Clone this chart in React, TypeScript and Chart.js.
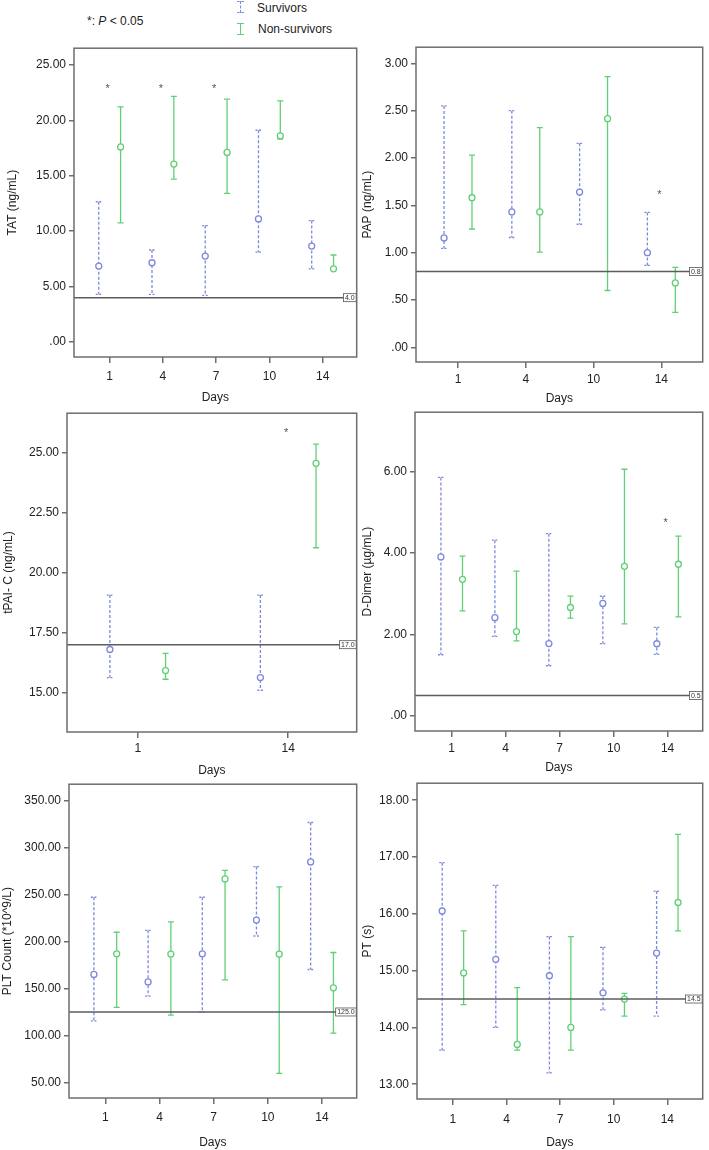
import React, { useEffect, useRef } from 'react';
import { Chart, registerables } from 'chart.js';

Chart.register(...registerables);

const FONT = "'Liberation Sans', Arial, Helvetica, sans-serif";
const BLUE = '#7d89dc';
const GREEN = '#62cf77';
const FRAME = '#6e6e6e';
const REFLINE = '#5c5c5c';
const TEXT = '#222222';

// ---------------- Data ----------------
const tatDays = ['1', '4', '7', '10', '14'];
const tatSurvMean = [6.85, 7.15, 7.75, 11.1, 8.65];
const tatSurvLow = [4.3, 4.3, 4.2, 8.1, 6.6];
const tatSurvHigh = [12.65, 8.3, 10.5, 19.1, 10.95];
const tatNonMean = [17.6, 16.05, 17.1, 18.6, 6.6];
const tatNonLow = [10.75, 14.7, 13.4, 18.3, 6.55];
const tatNonHigh = [21.2, 22.15, 21.9, 21.75, 7.85];
const tatTicks = [0, 5, 10, 15, 20, 25];
const tatCutoff = 4.0;
const tatStarDays = ['1', '4', '7'];
const tatStarLevel = 23.0;

const papDays = ['1', '4', '10', '14'];
const papSurvMean = [1.155, 1.43, 1.64, 1.0];
const papSurvLow = [1.045, 1.16, 1.3, 0.865];
const papSurvHigh = [2.55, 2.5, 2.155, 1.425];
const papNonMean = [1.58, 1.43, 2.415, 0.68];
const papNonLow = [1.25, 1.005, 0.6, 0.37];
const papNonHigh = [2.03, 2.32, 2.86, 0.845];
const papTicks = [0, 0.5, 1, 1.5, 2, 2.5, 3];
const papCutoff = 0.8;
const papStarDays = ['14'];
const papStarLevel = 1.63;

const tpaiDays = ['1', '14'];
const tpaiSurvMean = [16.8, 15.63];
const tpaiSurvLow = [15.63, 15.1];
const tpaiSurvHigh = [19.07, 19.07];
const tpaiNonMean = [15.92, 24.56];
const tpaiNonLow = [15.56, 21.04];
const tpaiNonHigh = [16.64, 25.36];
const tpaiTicks = [15, 17.5, 20, 22.5, 25];
const tpaiCutoff = 17.0;
const tpaiStarDays = ['14'];
const tpaiStarLevel = 25.9;

const ddDays = ['1', '4', '7', '10', '14'];
const ddSurvMean = [3.9, 2.41, 1.775, 2.76, 1.77];
const ddSurvLow = [1.5, 1.95, 1.23, 1.775, 1.51];
const ddSurvHigh = [5.85, 4.31, 4.47, 2.935, 2.17];
const ddNonMean = [3.35, 2.07, 2.66, 3.67, 3.72];
const ddNonLow = [2.575, 1.84, 2.4, 2.26, 2.43];
const ddNonHigh = [3.92, 3.55, 2.94, 6.05, 4.41];
const ddTicks = [0, 2, 4, 6];
const ddCutoff = 0.5;
const ddStarDays = ['14'];
const ddStarLevel = 4.77;

const pltDays = ['1', '4', '7', '10', '14'];
const pltSurvMean = [165, 157, 187, 223, 285];
const pltSurvLow = [115.6, 142, 125.2, 206, 170.3];
const pltSurvHigh = [247.3, 212, 247.3, 280, 327];
const pltNonMean = [187, 186.7, 266.8, 186.7, 150.7];
const pltNonLow = [130, 121.7, 159.3, 59.6, 102.5];
const pltNonHigh = [210, 221, 276, 258.3, 188.4];
const pltTicks = [50, 100, 150, 200, 250, 300, 350];
const pltCutoff = 125.0;

const ptDays = ['1', '4', '7', '10', '14'];
const ptSurvMean = [16.05, 15.2, 14.91, 14.61, 15.31];
const ptSurvLow = [13.6, 14.0, 13.2, 14.31, 14.2];
const ptSurvHigh = [16.9, 16.5, 15.6, 15.41, 16.4];
const ptNonMean = [14.96, 13.7, 14.0, 14.5, 16.2];
const ptNonLow = [14.4, 13.6, 13.6, 14.2, 15.7];
const ptNonHigh = [15.7, 14.7, 15.6, 14.6, 17.4];
const ptTicks = [13, 14, 15, 16, 17, 18];
const ptCutoff = 14.5;

// ---------------- Panel setup ----------------
type PanelCfg = {
  id: string;
  yTitle: string;
  days: string[];
  sMean: number[]; sLow: number[]; sHigh: number[];
  nMean: number[]; nLow: number[]; nHigh: number[];
  yTicks: number[];
  cutoff: number;
  starDays: string[];
  starLevel: number;
  yMin: number; yMax: number;
  xMin: number; xMax: number;
  offset: number;
  // layout (page px)
  areaL: number; areaT: number; areaR: number; areaB: number;
  x0: number; labelY: number; titleY: number; titleX: number;
};

const panels: PanelCfg[] = [
  {
    id: 'tat', yTitle: 'TAT (ng/mL)', days: tatDays,
    sMean: tatSurvMean, sLow: tatSurvLow, sHigh: tatSurvHigh,
    nMean: tatNonMean, nLow: tatNonLow, nHigh: tatNonHigh,
    yTicks: tatTicks, cutoff: tatCutoff, starDays: tatStarDays, starLevel: tatStarLevel,
    yMin: -1.35, yMax: 26.5, xMin: -0.67, xMax: 4.64, offset: 0.205,
    areaL: 74, areaT: 48, areaR: 358, areaB: 357, x0: 0, labelY: 377, titleY: 398, titleX: 12.3,
  },
  {
    id: 'pap', yTitle: 'PAP (ng/mL)', days: papDays,
    sMean: papSurvMean, sLow: papSurvLow, sHigh: papSurvHigh,
    nMean: papNonMean, nLow: papNonLow, nHigh: papNonHigh,
    yTicks: papTicks, cutoff: papCutoff, starDays: papStarDays, starLevel: papStarLevel,
    yMin: -0.155, yMax: 3.17, xMin: -0.62, xMax: 3.61, offset: 0.206,
    areaL: 416, areaT: 47, areaR: 704, areaB: 362, x0: 356, labelY: 380, titleY: 399, titleX: 368,
  },
  {
    id: 'tpai', yTitle: 'tPAI- C (ng/mL)', days: tpaiDays,
    sMean: tpaiSurvMean, sLow: tpaiSurvLow, sHigh: tpaiSurvHigh,
    nMean: tpaiNonMean, nLow: tpaiNonLow, nHigh: tpaiNonHigh,
    yTicks: tpaiTicks, cutoff: tpaiCutoff, starDays: tpaiStarDays, starLevel: tpaiStarLevel,
    yMin: 13.36, yMax: 26.65, xMin: -0.47, xMax: 1.455, offset: 0.185,
    areaL: 67, areaT: 413, areaR: 358, areaB: 732, x0: 0, labelY: 749, titleY: 771, titleX: 8.3,
  },
  {
    id: 'dd', yTitle: 'D-Dimer (\u00b5g/mL)', days: ddDays,
    sMean: ddSurvMean, sLow: ddSurvLow, sHigh: ddSurvHigh,
    nMean: ddNonMean, nLow: ddNonLow, nHigh: ddNonHigh,
    yTicks: ddTicks, cutoff: ddCutoff, starDays: ddStarDays, starLevel: ddStarLevel,
    yMin: -0.37, yMax: 7.45, xMin: -0.68, xMax: 4.65, offset: 0.2,
    areaL: 415, areaT: 412, areaR: 704, areaB: 731, x0: 356, labelY: 749, titleY: 768, titleX: 368,
  },
  {
    id: 'plt', yTitle: 'PLT Count (*10^9/L)', days: pltDays,
    sMean: pltSurvMean, sLow: pltSurvLow, sHigh: pltSurvHigh,
    nMean: pltNonMean, nLow: pltNonLow, nHigh: pltNonHigh,
    yTicks: pltTicks, cutoff: pltCutoff, starDays: [], starLevel: 0,
    yMin: 33.3, yMax: 367.8, xMin: -0.67, xMax: 4.64, offset: 0.21,
    areaL: 69, areaT: 784, areaR: 358, areaB: 1098, x0: 0, labelY: 1118, titleY: 1143, titleX: 7.3,
  },
  {
    id: 'pt', yTitle: 'PT (s)', days: ptDays,
    sMean: ptSurvMean, sLow: ptSurvLow, sHigh: ptSurvHigh,
    nMean: ptNonMean, nLow: ptNonLow, nHigh: ptNonHigh,
    yTicks: ptTicks, cutoff: ptCutoff, starDays: [], starLevel: 0,
    yMin: 12.74, yMax: 18.3, xMin: -0.67, xMax: 4.66, offset: 0.2,
    areaL: 417, areaT: 783, areaR: 704, areaB: 1099, x0: 356, labelY: 1120, titleY: 1143, titleX: 368,
  },
];

const fmtTick = (v: number) => {
  const s = Number(v).toFixed(2);
  return s.startsWith('0.') ? s.slice(1) : s;
};

const TICK_LEN_X = 6;
const TICK_LEN_Y = 5;
const FONT_SIZE = 12;
const LINE_H = FONT_SIZE * 1.2;

function drawErrorBar(ctx: CanvasRenderingContext2D, px: number, yLo: number, yHi: number, color: string, dashed: boolean) {
  const cap = 3;
  ctx.save();
  ctx.strokeStyle = color;
  ctx.lineWidth = 1.3;
  ctx.setLineDash(dashed ? [3, 2] : []);
  ctx.beginPath();
  ctx.moveTo(px, yHi);
  ctx.lineTo(px, yLo);
  ctx.stroke();
  ctx.setLineDash(dashed ? [2, 1.5] : []);
  ctx.beginPath();
  ctx.moveTo(px - cap, yHi);
  ctx.lineTo(px + cap, yHi);
  ctx.moveTo(px - cap, yLo);
  ctx.lineTo(px + cap, yLo);
  ctx.stroke();
  ctx.restore();
}

function PanelChart({ p }: { p: PanelCfg }) {
  const ref = useRef<HTMLCanvasElement | null>(null);
  const y0 = p.areaT - 10;
  const x1 = p.areaR + 4;
  const canvasW = x1 - p.x0;
  const canvasH = p.titleY + 10 - y0;

  useEffect(() => {
    if (!ref.current) return;
    const yAxisW = p.areaL - p.x0;
    const xAxisH = p.titleY + 10 - p.areaB;

    const overlay = {
      id: 'overlay_' + p.id,
      beforeDatasetsDraw(chart: any) {
        const { ctx, scales } = chart;
        const xs = scales.x;
        const ys = scales.y;
        p.days.forEach((_d, i) => {
          drawErrorBar(ctx, xs.getPixelForValue(i - p.offset), ys.getPixelForValue(p.sLow[i]), ys.getPixelForValue(p.sHigh[i]), BLUE, true);
          drawErrorBar(ctx, xs.getPixelForValue(i + p.offset), ys.getPixelForValue(p.nLow[i]), ys.getPixelForValue(p.nHigh[i]), GREEN, false);
        });
      },
      afterDatasetsDraw(chart: any) {
        const { ctx, scales, chartArea } = chart;
        const xs = scales.x;
        const ys = scales.y;
        // reference line
        const ry = ys.getPixelForValue(p.cutoff);
        ctx.save();
        ctx.strokeStyle = REFLINE;
        ctx.lineWidth = 1.5;
        ctx.beginPath();
        ctx.moveTo(chartArea.left, ry);
        ctx.lineTo(chartArea.right, ry);
        ctx.stroke();
        // label box
        const label = p.cutoff.toFixed(1);
        ctx.font = `7px ${FONT}`;
        const tw = ctx.measureText(label).width;
        const bw = tw + 3;
        const bh = 8;
        const bx = chartArea.right - bw - 0.5;
        ctx.fillStyle = '#ffffff';
        ctx.fillRect(bx, ry - bh / 2, bw, bh);
        ctx.strokeStyle = '#555555';
        ctx.lineWidth = 0.8;
        ctx.strokeRect(bx, ry - bh / 2, bw, bh);
        ctx.fillStyle = '#333333';
        ctx.textAlign = 'center';
        ctx.textBaseline = 'middle';
        ctx.fillText(label, bx + bw / 2, ry + 0.5);
        // stars
        ctx.font = `11px ${FONT}`;
        ctx.fillStyle = '#555555';
        p.starDays.forEach((d) => {
          const idx = p.days.indexOf(d);
          ctx.fillText('*', xs.getPixelForValue(idx) - 2, ys.getPixelForValue(p.starLevel) + 2);
        });
        // frame
        ctx.strokeStyle = FRAME;
        ctx.lineWidth = 1.5;
        ctx.strokeRect(chartArea.left, chartArea.top, chartArea.right - chartArea.left, chartArea.bottom - chartArea.top);
        ctx.restore();
      },
    };

    const chart = new Chart(ref.current, {
      type: 'scatter',
      data: {
        datasets: [
          {
            label: 'Survivors',
            data: p.days.map((_d, i) => ({ x: i - p.offset, y: p.sMean[i] })),
            pointStyle: 'circle',
            pointRadius: 3,
            pointBorderWidth: 1.3,
            borderColor: BLUE,
            pointBorderColor: BLUE,
            pointBackgroundColor: '#ffffff',
            backgroundColor: '#ffffff',
          },
          {
            label: 'Non-survivors',
            data: p.days.map((_d, i) => ({ x: i + p.offset, y: p.nMean[i] })),
            pointStyle: 'circle',
            pointRadius: 3,
            pointBorderWidth: 1.3,
            borderColor: GREEN,
            pointBorderColor: GREEN,
            pointBackgroundColor: '#ffffff',
            backgroundColor: '#ffffff',
          },
        ],
      },
      options: {
        animation: false,
        responsive: false,
        maintainAspectRatio: false,
        layout: { padding: { left: 0, top: p.areaT - y0, right: x1 - p.areaR, bottom: 0 } },
        plugins: { legend: { display: false }, tooltip: { enabled: false } },
        scales: {
          x: {
            type: 'linear',
            min: p.xMin,
            max: p.xMax,
            afterBuildTicks: (axis: any) => {
              axis.ticks = p.days.map((_d, i) => ({ value: i }));
            },
            afterFit: (s: any) => {
              s.height = xAxisH;
            },
            ticks: {
              callback: (_v: any, i: number) => p.days[i],
              font: { family: FONT, size: FONT_SIZE },
              color: TEXT,
              padding: p.labelY - p.areaB - TICK_LEN_X - LINE_H / 2,
              maxRotation: 0,
              autoSkip: false,
            },
            grid: { drawOnChartArea: false, drawTicks: true, tickLength: TICK_LEN_X, color: FRAME, lineWidth: 1.5 },
            border: { display: false },
            title: {
              display: true,
              text: 'Days',
              font: { family: FONT, size: FONT_SIZE },
              color: TEXT,
              padding: { top: 0, bottom: p.titleY + 10 - (p.titleY + LINE_H / 2) },
            },
          },
          y: {
            type: 'linear',
            min: p.yMin,
            max: p.yMax,
            afterBuildTicks: (axis: any) => {
              axis.ticks = p.yTicks.map((v) => ({ value: v }));
            },
            afterFit: (s: any) => {
              s.width = yAxisW;
            },
            ticks: {
              callback: (v: any) => fmtTick(Number(v)),
              font: { family: FONT, size: FONT_SIZE },
              color: TEXT,
              padding: 3,
              autoSkip: false,
            },
            grid: { drawOnChartArea: false, drawTicks: true, tickLength: TICK_LEN_Y, color: FRAME, lineWidth: 1.5 },
            border: { display: false },
            title: {
              display: true,
              text: p.yTitle,
              font: { family: FONT, size: FONT_SIZE },
              color: TEXT,
              padding: { top: Math.max(0, p.titleX - p.x0 - LINE_H / 2), bottom: 0 },
            },
          },
        },
      },
      plugins: [overlay],
    } as any);
    return () => chart.destroy();
  }, [p]);

  return (
    <canvas
      ref={ref}
      width={canvasW}
      height={canvasH}
      style={{ position: 'absolute', left: p.x0, top: y0, width: canvasW, height: canvasH }}
    />
  );
}

function LegendIcon({ color, dashed, top }: { color: string; dashed: boolean; top: number }) {
  const style = dashed ? 'dashed' : 'solid';
  return (
    <div style={{ position: 'absolute', left: 237, top, width: 7, height: 12 }}>
      <div style={{ position: 'absolute', left: 0, top: 0, width: 7, borderTop: `1.3px ${style} ${color}` }} />
      <div style={{ position: 'absolute', left: 3, top: 0, height: 12, borderLeft: `1.3px ${style} ${color}` }} />
      <div style={{ position: 'absolute', left: 0, top: 11, width: 7, borderTop: `1.3px ${style} ${color}` }} />
    </div>
  );
}

export default function App() {
  return (
    <div
      style={{
        position: 'absolute',
        left: 0,
        top: 0,
        width: 709,
        height: 1150,
        background: '#ffffff',
        fontFamily: FONT,
        color: TEXT,
        overflow: 'hidden',
      }}
    >
      <div style={{ position: 'absolute', left: 87, top: 13, fontSize: 12, lineHeight: '16px', whiteSpace: 'nowrap' }}>
        *: <i>P</i> &lt; 0.05
      </div>
      <LegendIcon color={BLUE} dashed={true} top={1} />
      <div style={{ position: 'absolute', left: 257, top: 0, fontSize: 12, lineHeight: '16px', whiteSpace: 'nowrap' }}>
        Survivors
      </div>
      <LegendIcon color={GREEN} dashed={false} top={23} />
      <div style={{ position: 'absolute', left: 258, top: 21, fontSize: 12, lineHeight: '16px', whiteSpace: 'nowrap' }}>
        Non-survivors
      </div>
      {panels.map((p) => (
        <PanelChart key={p.id} p={p} />
      ))}
    </div>
  );
}
